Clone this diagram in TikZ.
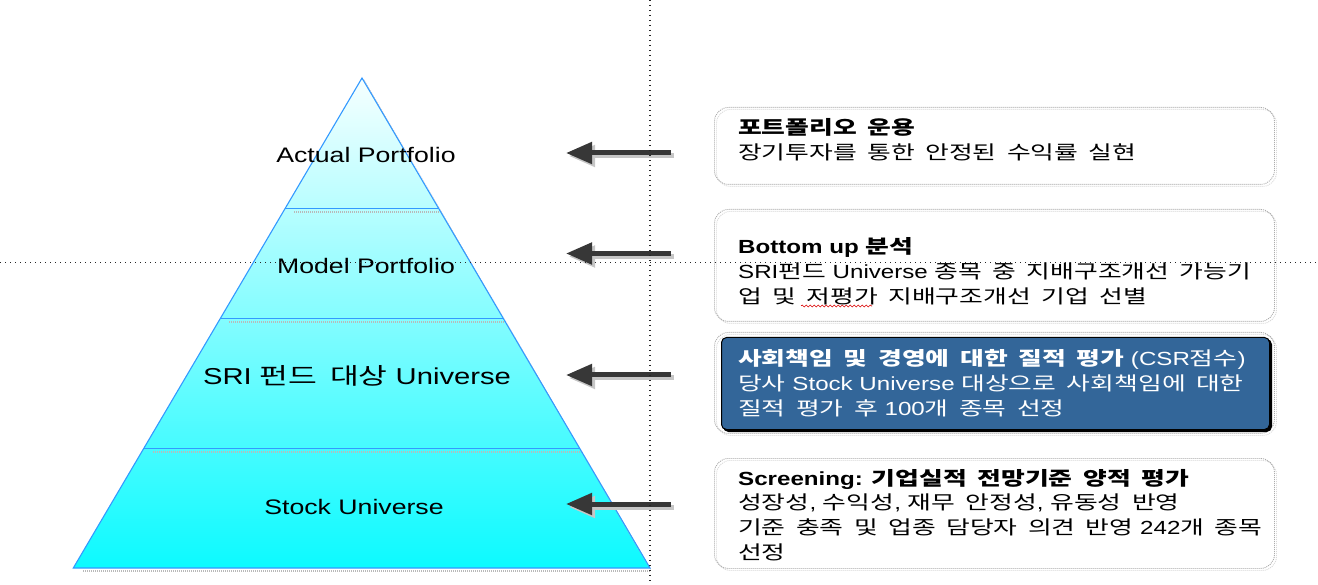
\documentclass[tikz,border=0pt]{standalone}
\usepackage{fontspec}
\setmainfont{Liberation Sans}[FakeStretch=1.27]
\newfontfamily\kr{Noto Sans CJK KR}[FakeStretch=1.36,WordSpace=1.8]
\newcommand\K[1]{{\kr #1}}
\usetikzlibrary{arrows.meta,calc,decorations.pathmorphing}
\definecolor{pyredge}{RGB}{51,153,255}
\definecolor{pyrtop}{RGB}{246,255,255}
\definecolor{pyrbot}{RGB}{12,250,255}
\definecolor{darkbox}{RGB}{51,102,153}
\definecolor{arrowgray}{RGB}{55,55,55}
\tikzset{
  pyrline/.style={draw=pyredge, line width=1.1pt},
  levelshadow/.style={draw=gray!55, line width=1.2pt, dash pattern=on 1pt off 1pt},
  pyrlabel/.style={inner sep=0pt, font=\fontsize{21}{24}\selectfont},
  bigarrow/.style={draw=arrowgray, line width=5pt, -{Triangle[length=26pt,width=21pt]}},
  arrowshadow/.style={draw=gray!45, line width=5pt, -{Triangle[length=26pt,width=21pt]}},
  boxframe/.style={draw=gray!65, line width=0.9pt, dash pattern=on 1pt off 1pt, rounded corners=14pt, inner sep=0pt},
  boxshadow/.style={draw=gray!30, line width=0.9pt, dash pattern=on 1pt off 1pt, rounded corners=14pt, inner sep=0pt},
  boxtext/.style={inner sep=0pt, anchor=west, align=left, font=\fontsize{19}{24.8}\selectfont},
  dotline/.style={draw=black!85, line width=1.1pt, dash pattern=on 1.1pt off 3.9pt},
}
\begin{document}
\begin{tikzpicture}[x=1pt,y=-1pt]
\useasboundingbox (0,0) rectangle (1318,585);

% ---------- pyramid ----------
\coordinate (apex) at (362,78);
\coordinate (bl) at (73.3,568);
\coordinate (br) at (650,568);
\shade[top color=pyrtop, bottom color=pyrbot] (apex) -- (bl) -- (br) -- cycle;
\draw[levelshadow] ($(bl)+(10,3)$) -- ($(br)+(1,3)$);
\draw[draw=gray!40, line width=1pt, dash pattern=on 1pt off 1pt] ($(apex)+(2,2)$) -- ($(br)+(1,2)$);
\foreach \t in {0.2663,0.4908,0.7561}{
  \draw[levelshadow] ($(apex)!\t!(bl)+(9,3.5)$) -- ($(apex)!\t!(br)+(1,3.5)$);
  \draw[pyrline] ($(apex)!\t!(bl)$) -- ($(apex)!\t!(br)$);
}
\draw[pyrline, line join=miter] (apex) -- (bl) -- (br) -- cycle;

\node[pyrlabel] (lab1) at (366,155) {Actual Portfolio};
\node[pyrlabel] (lab2) at (366,266) {Model Portfolio};
\node[pyrlabel, font=\fontsize{23}{26}\selectfont] (lab3) at (357,376) {SRI \K{펀드 대상} Universe};
\node[pyrlabel] (lab4) at (354,507) {Stock Universe};

% ---------- boxes ----------
\node[boxshadow, minimum width=560pt, minimum height=77pt, anchor=north west] (b1s) at (716,109) {};
\node[boxframe, minimum width=560pt, minimum height=77pt, anchor=north west] (b1) at (714,107) {};
\node[boxshadow, minimum width=560pt, minimum height=112pt, anchor=north west] (b2s) at (716,211) {};
\node[boxframe, minimum width=560pt, minimum height=112pt, anchor=north west] (b2) at (714,209) {};
\node[boxshadow, minimum width=560pt, minimum height=101pt, anchor=north west] (b3s) at (716,334) {};
\node[boxframe, minimum width=560pt, minimum height=101pt, anchor=north west] (b3) at (714,332) {};
\node[draw=black, fill=black, line width=1pt, rounded corners=5pt, minimum width=548pt, minimum height=92pt, anchor=north west, inner sep=0pt] (b3sh) at (723,339) {};
\node[draw=black, fill=darkbox, line width=1pt, rounded corners=5pt, minimum width=548pt, minimum height=92pt, anchor=north west, inner sep=0pt] (b3in) at (721,337) {};
\node[boxshadow, minimum width=560pt, minimum height=110pt, anchor=north west] (b4s) at (716,460) {};
\node[boxframe, minimum width=560pt, minimum height=110pt, anchor=north west] (b4) at (714,458) {};

\node[boxtext] (t1) at (738,140) {\textbf{\K{포트폴리오 운용}}\\\K{장기투자를 통한 안정된 수익률 실현}};
\node[boxtext] (t2) at (738,271.5) {\textbf{Bottom up \K{분석}}\\SRI\K{펀드} Universe \K{종목 중 지배구조개선 가능기}\\\K{업 및 저평가 지배구조개선 기업 선별}};
\node[boxtext, text=white] (t3) at (738,383) {\textbf{\K{사회책임 및 경영에 대한 질적 평가}} (CSR\K{점수})\\\K{당사} Stock Universe \K{대상으로 사회책임에 대한}\\\K{질적 평가 후} 100\K{개 종목 선정}};
\node[boxtext] (t4) at (738,515) {\textbf{Screening: \K{기업실적 전망기준 양적 평가}}\\\K{성장성}, \K{수익성}, \K{재무 안정성}, \K{유동성 반영}\\\K{기준 충족 및 업종 담당자 의견 반영} 242\K{개 종목}\\\K{선정}};

% spell-check squiggle
\coordinate (sq1) at (801,306);
\coordinate (sq2) at (872,306);
\draw[red!85!black, line width=0.6pt, decorate, decoration={snake, amplitude=1pt, segment length=4pt}] (sq1) -- (sq2);

% ---------- arrows ----------
\foreach \i/\y in {1/153,2/253.5,3/375,4/504}{
  \coordinate (as\i) at (671,\y);
  \coordinate (at\i) at (566,\y);
  \draw[arrowshadow] ($(as\i)+(3,3)$) -- ($(at\i)+(3,3)$);
  \draw[bigarrow] (as\i) -- (at\i);
}

% ---------- dotted guide lines ----------
\coordinate (vtop) at (650,0);
\coordinate (vbot) at (650,585);
\coordinate (hl) at (0,262.5);
\coordinate (hr) at (1318,262.5);
\draw[dotline] (vtop) -- (vbot);
\draw[dotline] (hl) -- (hr);
\end{tikzpicture}
\end{document}
